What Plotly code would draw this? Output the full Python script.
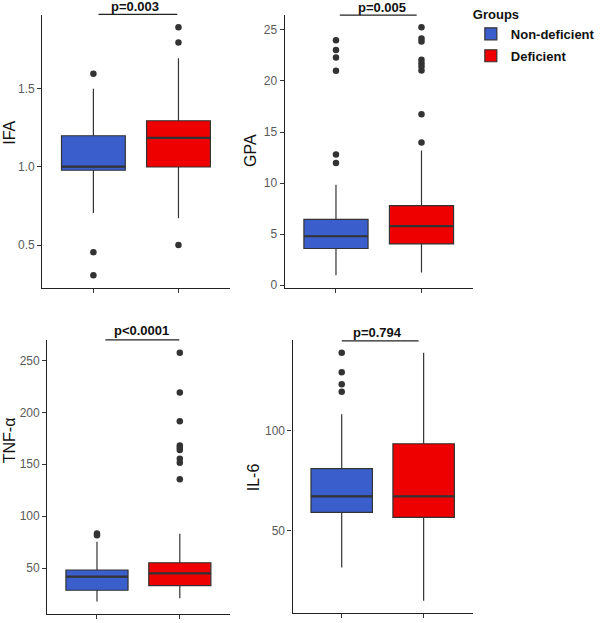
import plotly.graph_objects as go

W, H = 600, 623

groups = ["Non-deficient", "Deficient"]
colors = ["#3A5FCD", "#EE0000"]
panels = ["IFA", "GPA", "TNF-α", "IL-6"]
p_labels = ["p=0.003", "p=0.005", "p<0.0001", "p=0.794"]

# box statistics: [lower whisker, q1, median, q3, upper whisker] per group
ifa_stats = [[0.706, 0.979, 1.002, 1.20, 1.50], [0.672, 1.00, 1.186, 1.296, 1.696]]
ifa_out = [[1.596, 0.455, 0.307], [1.894, 1.797, 0.50]]

gpa_stats = [[0.97, 3.59, 4.79, 6.44, 9.83], [1.23, 4.04, 5.79, 7.79, 13.2]]
gpa_out = [[24.0, 23.03, 22.3, 21.0, 12.8, 11.97],
           [25.26, 24.16, 23.87, 22.09, 21.73, 21.41, 21.02, 16.75, 13.97]]

tnf_stats = [[17.7, 28.6, 41.7, 48.1, 75.3], [20.9, 33.0, 44.9, 55.1, 83.0]]
tnf_out = [[83.3, 81.7],
           [257.4, 219.0, 191.4, 168.0, 165.8, 163.6, 155.3, 151.4, 135.4]]

il6_stats = [[31.4, 59.1, 67.1, 81.06, 108.3], [14.8, 56.6, 67.1, 93.5, 139.2]]
il6_out = [[139.2, 129.4, 123.4, 119.6], []]

all_stats = [ifa_stats, gpa_stats, tnf_stats, il6_stats]
all_out = [ifa_out, gpa_out, tnf_out, il6_out]
yticks = [[0.5, 1.0, 1.5], [0, 5, 10, 15, 20, 25], [50, 100, 150, 200, 250], [50, 100]]
tickfmt = [".1f", "", "", ""]

# panel pixel boxes: (left, right, top, bottom)
boxes = [(43, 233, 15, 290), (289, 480, 15, 290), (48, 233, 343, 619), (297, 480, 343, 618)]
title_pos = [(10, 134), (255, 152), (10, 444), (257, 481)]
# (text centre x, text box bottom y, bracket line y, bracket x0, bracket x1)
pval_pos = [(137, 16.5, 14.5, 100, 180), (388, 17.5, 15.3, 345, 423),
            (144, 342.5, 342.7, 107, 182), (383, 344.5, 343.7, 347, 425)]

BW = 0.75
fig = go.Figure()
shapes, annotations = [], []
layout = {}
for i in range(4):
    ax = "" if i == 0 else str(i + 1)
    xa, ya = "x" + ax, "y" + ax
    stats, outs = all_stats[i], all_out[i]
    vals = [v for s in stats for v in s] + [v for o in outs for v in o]
    mn, mx = min(vals), max(vals)
    span = mx - mn
    l, r, t, b = boxes[i]
    for g in range(2):
        s = stats[g]
        fig.add_trace(go.Box(
            x=[g], lowerfence=[s[0]], q1=[s[1]], median=[s[2]], q3=[s[3]], upperfence=[s[4]],
            name=groups[g], legendgroup=groups[g], showlegend=(i == 0),
            fillcolor=colors[g], line=dict(color="#333333", width=1.2),
            width=BW, whiskerwidth=0, boxpoints=False, xaxis=xa, yaxis=ya,
            hoverinfo="skip"))
        if outs[g]:
            fig.add_trace(go.Scatter(
                x=[g] * len(outs[g]), y=outs[g], mode="markers",
                marker=dict(size=6.5, color="#333333"), showlegend=False,
                xaxis=xa, yaxis=ya, hoverinfo="skip"))
        shapes.append(dict(type="line", xref=xa, yref=ya, x0=g - BW / 2, x1=g + BW / 2,
                           y0=s[2], y1=s[2], line=dict(color="#333333", width=2.2)))
    layout["xaxis" + ax] = dict(domain=[l / W, r / W], range=[-0.6, 1.6], anchor=ya,
                               showline=True, linecolor="#222222", linewidth=1.3,
                               ticks="outside", ticklen=4, tickcolor="#333333",
                               tickvals=[0, 1], showticklabels=False,
                               showgrid=False, zeroline=False)
    layout["yaxis" + ax] = dict(domain=[1 - b / H, 1 - t / H],
                               range=[mn - 0.05 * span, mx + 0.05 * span], anchor=xa,
                               showline=True, linecolor="#222222", linewidth=1.3,
                               ticks="outside", ticklen=4, tickcolor="#333333",
                               tickvals=yticks[i], tickformat=tickfmt[i],
                               tickfont=dict(size=12, color="#5A5A5A"),
                               showgrid=False, zeroline=False)
    tx, ty = title_pos[i]
    annotations.append(dict(text=panels[i], x=tx / W, y=1 - ty / H, xref="paper", yref="paper",
                            textangle=-90, showarrow=False, xanchor="center", yanchor="middle",
                            font=dict(size=16, color="#111111")))
    px, py, ly, bx0, bx1 = pval_pos[i]
    annotations.append(dict(text="<b>%s</b>" % p_labels[i], x=px / W, y=1 - py / H,
                            xref="paper", yref="paper", showarrow=False,
                            xanchor="center", yanchor="bottom",
                            font=dict(size=13, color="#111111")))
    shapes.append(dict(type="line", xref="paper", yref="paper", x0=bx0 / W, x1=bx1 / W,
                       y0=1 - ly / H, y1=1 - ly / H, line=dict(color="#222222", width=1.2)))

fig.update_layout(
    width=W, height=H, autosize=False,
    margin=dict(l=0, r=0, t=0, b=0),
    paper_bgcolor="white", plot_bgcolor="white",
    font=dict(family="Liberation Sans, Arial, sans-serif"),
    boxmode="overlay",
    shapes=shapes, annotations=annotations,
    legend=dict(x=478 / W, y=1 - 2 / H, xanchor="left", yanchor="top",
                title=dict(text="<b>Groups</b>", font=dict(size=13, color="#111111")),
                font=dict(size=13, color="#111111", weight="bold"),
                tracegroupgap=2, bgcolor="rgba(0,0,0,0)"),
    **layout,
)
fig.write_html("out.html", config={"displayModeBar": False},
               post_script="document.body.style.margin='0';document.body.style.overflow='hidden';")
